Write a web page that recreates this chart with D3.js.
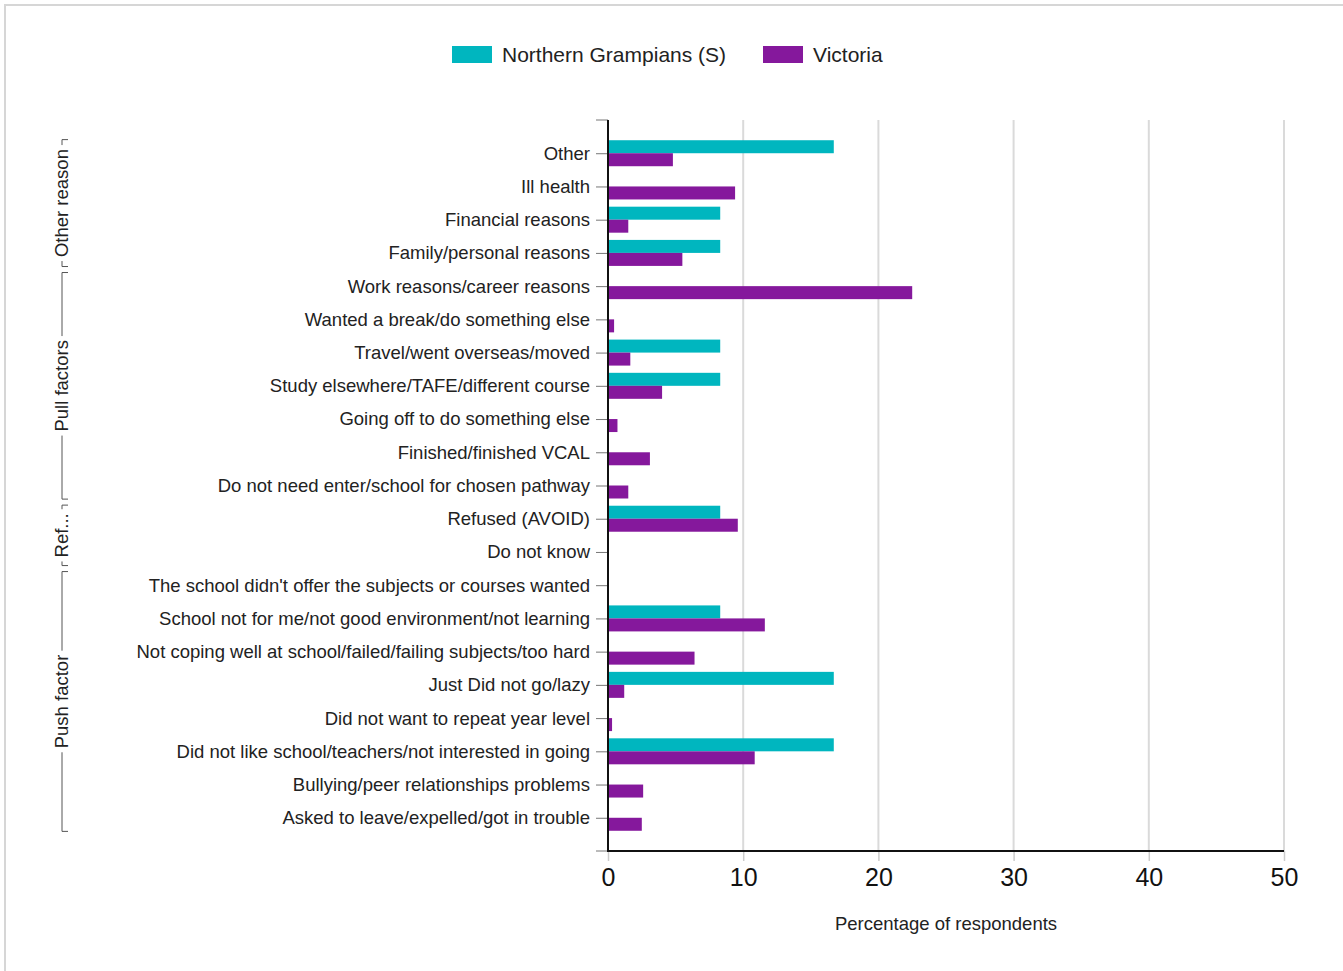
<!DOCTYPE html>
<html>
<head>
<meta charset="utf-8">
<script src="https://cdn.jsdelivr.net/npm/d3@7"></script>
<style>
  body { margin: 0; background: #fff; }
  svg { display: block; font-family: "Liberation Sans", Arial, sans-serif; }
</style>
</head>
<body>
<div id="chart"></div>
<script>
const categories = [
  "Other",
  "Ill health",
  "Financial reasons",
  "Family/personal reasons",
  "Work reasons/career reasons",
  "Wanted a break/do something else",
  "Travel/went overseas/moved",
  "Study elsewhere/TAFE/different course",
  "Going off to do something else",
  "Finished/finished VCAL",
  "Do not need enter/school for chosen pathway",
  "Refused (AVOID)",
  "Do not know",
  "The school didn't offer the subjects or courses wanted",
  "School not for me/not good environment/not learning",
  "Not coping well at school/failed/failing subjects/too hard",
  "Just Did not go/lazy",
  "Did not want to repeat year level",
  "Did not like school/teachers/not interested in going",
  "Bullying/peer relationships problems",
  "Asked to leave/expelled/got in trouble"
];
const northernGrampians = [16.7, 0, 8.3, 8.3, 0, 0, 8.3, 8.3, 0, 0, 0, 8.3, 0, 0, 8.3, 0, 16.7, 0, 16.7, 0, 0];
const victoria = [4.8, 9.4, 1.5, 5.5, 22.5, 0.45, 1.65, 4.0, 0.7, 3.1, 1.5, 9.6, 0, 0, 11.6, 6.4, 1.2, 0.3, 10.85, 2.6, 2.5];
const seriesNames = ["Northern Grampians (S)", "Victoria"];
const seriesColors = ["#00b6bf", "#85189c"];
const groups = [
  { name: "Other reason", first: 0, last: 3 },
  { name: "Pull factors", first: 4, last: 10 },
  { name: "Ref...", first: 11, last: 12 },
  { name: "Push factor", first: 13, last: 20 }
];
const xTicks = [0, 10, 20, 30, 40, 50];

const width = 1343, height = 971;
const margin = { top: 120, left: 608, right: 59, bottom: 120 };

const svg = d3.select("#chart").append("svg")
  .attr("width", width).attr("height", height);

// light frame around the chart
svg.append("rect")
  .attr("x", 5).attr("y", 5).attr("width", width + 10).attr("height", height + 10)
  .attr("fill", "none").attr("stroke", "#d6d6d6").attr("stroke-width", 2);

const x = d3.scaleLinear().domain([0, 50]).range([margin.left, width - margin.right]);
const y = d3.scalePoint().domain(categories).range([margin.top, height - margin.bottom]).padding(1);
const step = y.step();
const barH = 13;

// gridlines
svg.append("g").selectAll("line").data(xTicks.slice(1)).join("line")
  .attr("x1", d => x(d)).attr("x2", d => x(d))
  .attr("y1", margin.top).attr("y2", height - margin.bottom)
  .attr("stroke", "#dadada").attr("stroke-width", 2);

// bars
const rows = categories.map((c, i) => ({ c, a: northernGrampians[i], b: victoria[i] }));
svg.append("g").selectAll("rect").data(rows).join("rect")
  .attr("x", x(0)).attr("y", d => y(d.c) - barH)
  .attr("width", d => x(d.a) - x(0)).attr("height", barH)
  .attr("fill", seriesColors[0]);
svg.append("g").selectAll("rect").data(rows).join("rect")
  .attr("x", x(0)).attr("y", d => y(d.c))
  .attr("width", d => x(d.b) - x(0)).attr("height", barH)
  .attr("fill", seriesColors[1]);

// y axis
const yAxis = svg.append("g").attr("transform", `translate(${x(0)},0)`)
  .call(d3.axisLeft(y).tickSize(12).tickPadding(6));
yAxis.select(".domain").remove();
yAxis.selectAll(".tick line").attr("stroke", "#777");
yAxis.selectAll(".tick text").attr("font-size", 18.5).attr("fill", "#222")
  .attr("font-family", "Liberation Sans, Arial, sans-serif");
// end ticks at band edges
svg.append("g").selectAll("line").data([margin.top, height - margin.bottom]).join("line")
  .attr("x1", x(0) - 12).attr("x2", x(0)).attr("y1", d => d).attr("y2", d => d)
  .attr("stroke", "#777");
svg.append("line")
  .attr("x1", x(0)).attr("x2", x(0))
  .attr("y1", margin.top).attr("y2", height - margin.bottom + 1)
  .attr("stroke", "#111").attr("stroke-width", 2);

// x axis
const xAxis = svg.append("g").attr("transform", `translate(0,${height - margin.bottom})`)
  .call(d3.axisBottom(x).tickValues(xTicks).tickSize(10).tickPadding(7));
xAxis.select(".domain").remove();
xAxis.selectAll(".tick line").attr("stroke", "#ccc").attr("stroke-width", 1.5);
xAxis.selectAll(".tick text").attr("font-size", 25).attr("fill", "#111")
  .attr("font-family", "Liberation Sans, Arial, sans-serif");
svg.append("line")
  .attr("x1", x(0) - 1).attr("x2", x(50))
  .attr("y1", height - margin.bottom).attr("y2", height - margin.bottom)
  .attr("stroke", "#111").attr("stroke-width", 2);

svg.append("text")
  .attr("x", (x(0) + x(50)) / 2).attr("y", 930)
  .attr("text-anchor", "middle").attr("font-size", 18.5).attr("fill", "#222")
  .text("Percentage of respondents");

// group brackets
const gx = 62;
groups.forEach(g => {
  const top = y(categories[g.first]) - step / 2 + 3;
  const bot = y(categories[g.last]) + step / 2 - 3;
  const mid = (top + bot) / 2;
  const gEl = svg.append("g");
  const label = gEl.append("text")
    .attr("transform", `translate(${gx + 6},${mid}) rotate(-90)`)
    .attr("text-anchor", "middle").attr("font-size", 18.5).attr("fill", "#222")
    .text(g.name);
  const half = label.node().getComputedTextLength() / 2 + 4;
  const path = d3.path();
  path.moveTo(gx + 6, top); path.lineTo(gx, top); path.lineTo(gx, mid - half);
  path.moveTo(gx, mid + half); path.lineTo(gx, bot); path.lineTo(gx + 6, bot);
  gEl.append("path").attr("d", path.toString())
    .attr("fill", "none").attr("stroke", "#555").attr("stroke-width", 1);
});

// legend
const legend = svg.append("g").attr("transform", "translate(452,46)");
const legendX = [0, 311];
seriesNames.forEach((name, i) => {
  legend.append("rect").attr("x", legendX[i]).attr("y", 0)
    .attr("width", 40).attr("height", 17).attr("fill", seriesColors[i]);
  legend.append("text").attr("x", legendX[i] + 50).attr("y", 15.5)
    .attr("font-size", 21).attr("fill", "#222").text(name);
});
</script>
</body>
</html>
